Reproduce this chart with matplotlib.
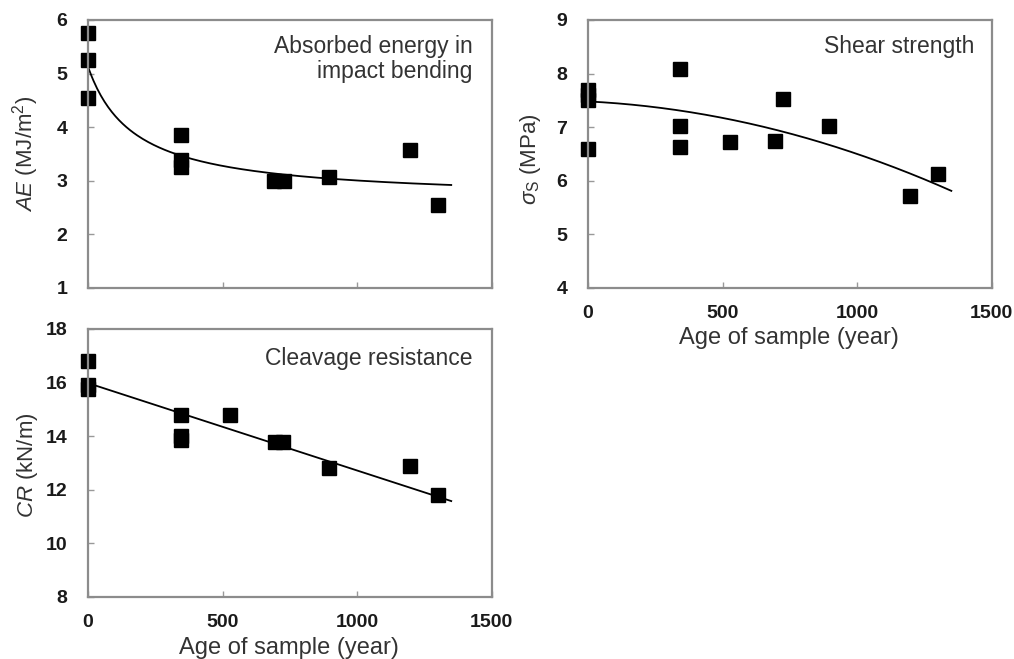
import numpy as np
import matplotlib.pyplot as plt

plt.rcParams['font.family'] = ['Liberation Sans', 'DejaVu Sans']
plt.rcParams['mathtext.fontset'] = 'custom'
plt.rcParams['mathtext.rm'] = 'Liberation Sans'
plt.rcParams['mathtext.it'] = 'Liberation Sans:italic'

# absorbed energy in impact bending
ae_age = [0, 0, 0, 345, 345, 345, 690, 730, 895, 1195, 1300]
ae_val = [5.75, 5.25, 4.55, 3.85, 3.38, 3.25, 3.0, 3.0, 3.07, 3.57, 2.55]
ae_fit = (2.64, 2.49, 172.0)   # a + b / (1 + x/c)

# shear strength
ss_age = [0, 0, 0, 0, 342, 342, 342, 527, 694, 725, 896, 1195, 1301]
ss_val = [7.7, 7.6, 7.5, 6.6, 8.08, 7.02, 6.63, 6.72, 6.75, 7.52, 7.02, 5.72, 6.13]
ss_fit = [-7.3e-7, -2.5e-4, 7.48]   # quadratic

# cleavage resistance
cr_age = [0, 0, 0, 345, 345, 345, 527, 694, 725, 896, 1195, 1301]
cr_val = [16.8, 15.9, 15.75, 14.78, 14.0, 13.85, 14.8, 13.8, 13.8, 12.82, 12.87, 11.8]
cr_fit = [-0.00326, 15.98]   # linear

x_ticks = [0, 500, 1000, 1500]
x_fit = np.linspace(0, 1350, 200)

fig = plt.figure(figsize=(10.14, 6.59), dpi=100)
ax1 = fig.add_axes([0.0868, 0.563, 0.398, 0.4067])
ax2 = fig.add_axes([0.580, 0.563, 0.398, 0.4067])
ax3 = fig.add_axes([0.0868, 0.0941, 0.398, 0.4067])

text_col = '#333333'


def style(ax, ylim, yticks, show_x):
    ax.set_xlim(0, 1500)
    ax.set_ylim(*ylim)
    ax.set_xticks(x_ticks)
    ax.set_yticks(yticks)
    for s in ax.spines.values():
        s.set_color('#8c8c8c')
        s.set_linewidth(1.6)
    ax.tick_params(direction='in', length=4, width=1, color='#999999',
                   labelsize=14, labelcolor='#1a1a1a')
    ax.tick_params(axis='y', pad=15)
    ax.tick_params(axis='x', pad=12)
    for lab in ax.get_xticklabels() + ax.get_yticklabels():
        lab.set_fontweight('bold')
    if show_x:
        ax.set_xlabel('Age of sample (year)', fontsize=17, color=text_col, va='center')
        ax.xaxis.set_label_coords(0.497, -0.185)
    else:
        ax.set_xticklabels([])


# panel 1
ax1.plot(x_fit, ae_fit[0] + ae_fit[1] / (1 + x_fit / ae_fit[2]), color='black', lw=1.3)
ax1.plot(ae_age, ae_val, 's', color='black', ms=9.5, clip_on=False)
style(ax1, (1, 6), range(1, 7), False)
ax1.set_ylabel('$AE$ (MJ/m$^2$)', fontsize=16, color=text_col, va='center')
ax1.yaxis.set_label_coords(-0.156, 0.5)
ax1.text(0.953, 0.944, 'Absorbed energy in\nimpact bending', transform=ax1.transAxes,
         ha='right', va='top', multialignment='right', fontsize=16.5,
         color=text_col, linespacing=1.1)

# panel 2
ax2.plot(x_fit, np.polyval(ss_fit, x_fit), color='black', lw=1.3)
ax2.plot(ss_age, ss_val, 's', color='black', ms=9.5, clip_on=False)
style(ax2, (4, 9), range(4, 10), True)
ax2.set_ylabel(r'$\sigma_\mathrm{S}$ (MPa)', fontsize=16, color=text_col, va='center')
ax2.yaxis.set_label_coords(-0.144, 0.48)
ax2.text(0.958, 0.944, 'Shear strength', transform=ax2.transAxes,
         ha='right', va='top', fontsize=16.5, color=text_col)

# panel 3
ax3.plot(x_fit, np.polyval(cr_fit, x_fit), color='black', lw=1.3)
ax3.plot(cr_age, cr_val, 's', color='black', ms=9.5, clip_on=False)
style(ax3, (8, 18), range(8, 19, 2), True)
ax3.set_ylabel('$CR$ (kN/m)', fontsize=16, color=text_col, va='center')
ax3.yaxis.set_label_coords(-0.149, 0.49)
ax3.text(0.953, 0.934, 'Cleavage resistance', transform=ax3.transAxes,
         ha='right', va='top', fontsize=16.5, color=text_col)
ax3.xaxis.set_label_coords(0.497, -0.19)

fig.savefig('out.png', dpi=100)
